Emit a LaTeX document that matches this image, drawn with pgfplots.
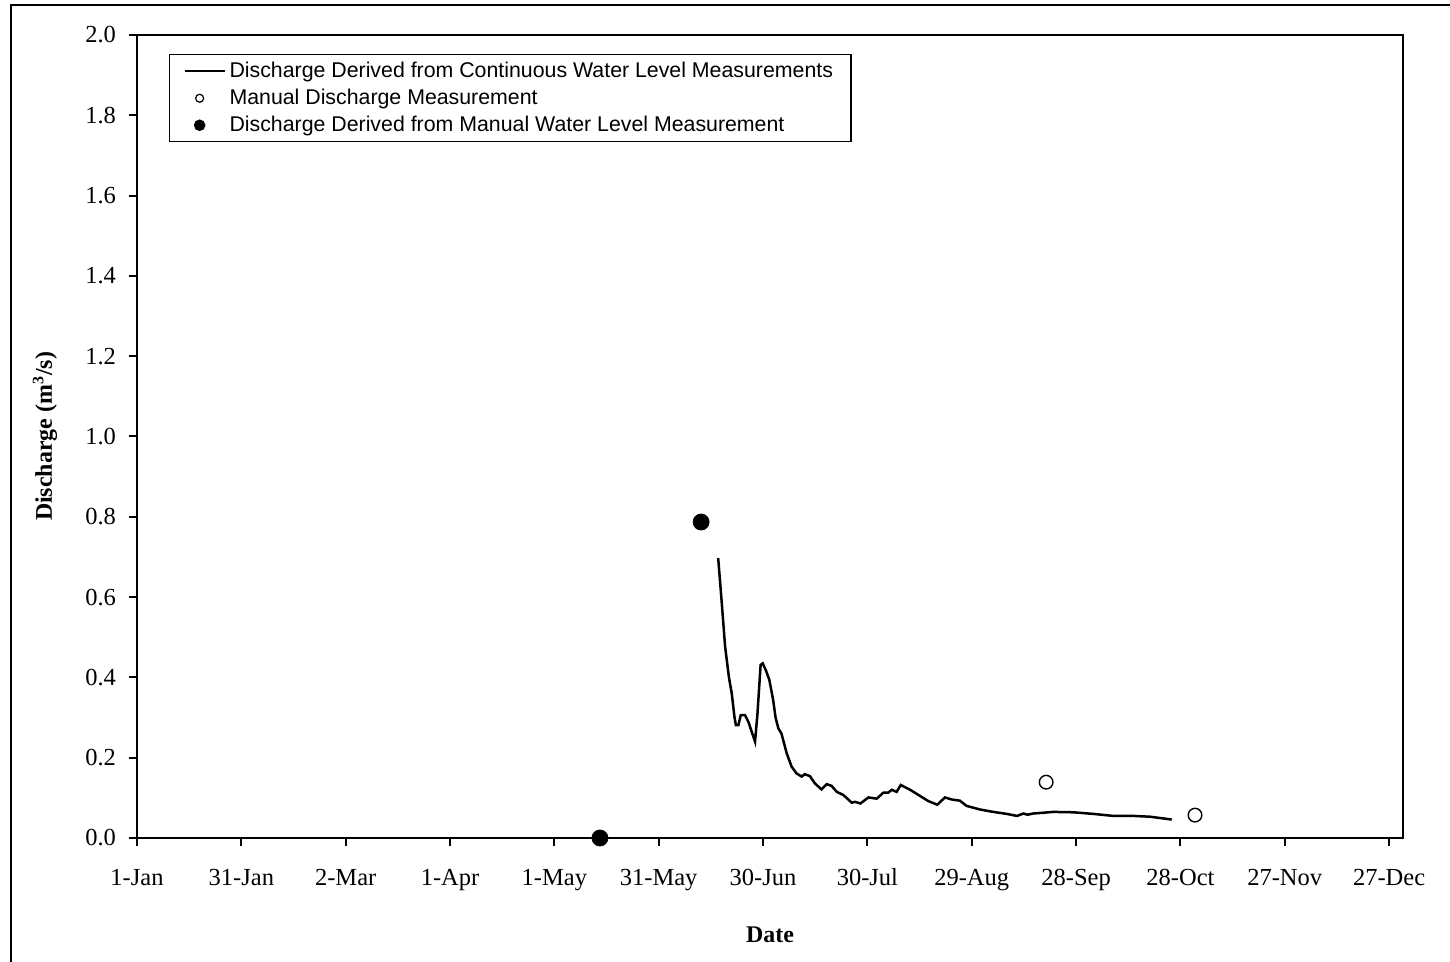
\documentclass[border=0pt]{standalone}
\usepackage{pgfplots}
\pgfplotsset{compat=1.18}
\usepackage{fontspec}
\setmainfont{Liberation Serif}
\newfontfamily\legfont{Liberation Sans}

\pgfplotstableread{
day q
167.1 0.697
168.0 0.600
169.1 0.476
170.2 0.400
171.0 0.360
171.8 0.300
172.2 0.281
172.9 0.281
173.6 0.306
174.8 0.306
175.8 0.289
177.7 0.240
178.4 0.310
179.3 0.431
179.9 0.435
180.8 0.418
181.8 0.394
182.9 0.344
183.6 0.300
184.4 0.273
185.3 0.260
186.8 0.211
188.2 0.178
189.6 0.161
191.1 0.153
192.0 0.159
193.5 0.154
194.9 0.136
196.8 0.121
198.3 0.134
199.7 0.130
201.2 0.115
203.1 0.107
205.5 0.088
206.5 0.090
208.0 0.086
210.3 0.101
212.7 0.098
214.6 0.113
216.0 0.113
217.0 0.120
218.4 0.115
219.6 0.132
222.3 0.120
225.1 0.105
227.5 0.092
230.1 0.083
232.3 0.101
234.2 0.096
236.6 0.093
238.5 0.080
242.4 0.071
246.2 0.065
250.1 0.060
253.0 0.055
254.9 0.061
256.0 0.058
257.7 0.061
263.5 0.065
269.2 0.064
275.0 0.060
280.7 0.055
286.5 0.055
291.3 0.053
297.5 0.046
}\contdata

\pgfplotstableread{
day q
261.4 0.139
304.2 0.057
}\manualq

\pgfplotstableread{
day q
133.1 0.000
162.2 0.787
}\manuallevel

\begin{document}
\begin{tikzpicture}
\useasboundingbox (-68.5bp,-62bp) rectangle (656.5bp,419bp);
\draw[line width=1bp] (-63bp,-62bp) -- (-63bp,416.5bp) -- (656.5bp,416.5bp);
\begin{axis}[
  at={(0,0)}, anchor=south west,
  scale only axis, width=633bp, height=401.5bp,
  xmin=0, xmax=364, ymin=0, ymax=2,
  xtick={0,30,60,90,120,150,180,210,240,270,300,330,360},
  xticklabels={1-Jan,31-Jan,2-Mar,1-Apr,1-May,31-May,30-Jun,30-Jul,29-Aug,28-Sep,28-Oct,27-Nov,27-Dec},
  ytick={0,0.2,0.4,0.6,0.8,1.0,1.2,1.4,1.6,1.8,2.0},
  yticklabel style={xshift=-3bp, /pgf/number format/fixed, /pgf/number format/fixed zerofill, /pgf/number format/precision=1},
  /pgf/number format/assume math mode=true,
  tick align=outside, xtick pos=left, ytick pos=left,
  major tick length=4bp,
  tick style={line width=1bp, black},
  axis line style={line width=1bp},
  ticklabel style={font=\fontsize{12.3}{14}\selectfont},
  xticklabel style={text height=9bp, text depth=3bp, yshift=-7bp},
  xlabel={Date},
  ylabel={Discharge (m\textsuperscript{3}/s)},
  label style={font=\fontsize{12}{14}\selectfont\bfseries},
  xlabel style={at={(axis description cs:0.5,-0.1208)}, anchor=center},
  ylabel style={at={(axis description cs:-0.0727,0.5)}, anchor=center},
  legend cell align=left,
  legend style={at={(axis description cs:0,1)}, anchor=north west,
    xshift=16bp, yshift=-9.5bp, draw=black, line width=0.75bp,
    font=\legfont\fontsize{10.7}{12}\selectfont,
    inner xsep=7bp, inner ysep=1.5bp, row sep=0bp,
    nodes={inner ysep=1.25bp, inner xsep=2bp, text height=8.5bp, text depth=2.5bp}},
  clip=false,
]
\addplot[black, line width=1.25bp, no marks,
  legend image code/.code={\draw[black, line width=0.9bp] (0bp,0bp) -- (20bp,0bp);}]
  table[x=day, y=q] {\contdata};
\addlegendentry{Discharge Derived from Continuous Water Level Measurements}
\addplot[black, only marks, mark=o, mark size=3.4bp, mark options={line width=0.7bp, fill=white},
  legend image code/.code={\path[draw=none, fill=none] (0bp,0bp) -- (20bp,0bp); \draw[black, line width=0.6bp, fill=white] (7.5bp,0bp) circle (2bp);}]
  table[x=day, y=q] {\manualq};
\addlegendentry{Manual Discharge Measurement}
\addplot[black, only marks, mark=*, mark size=4bp, mark options={fill=black},
  legend image code/.code={\path[draw=none, fill=none] (0bp,0bp) -- (20bp,0bp); \fill[black] (7.5bp,0bp) circle (2.5bp);}]
  table[x=day, y=q] {\manuallevel};
\addlegendentry{Discharge Derived from Manual Water Level Measurement}
\end{axis}
\end{tikzpicture}
\end{document}
